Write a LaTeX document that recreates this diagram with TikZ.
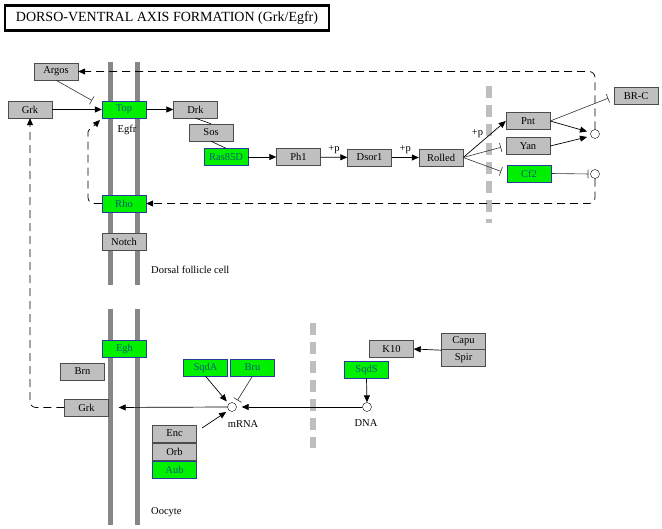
\documentclass[tikz,border=0pt]{standalone}
\usepackage{fontspec}
\setmainfont{Liberation Serif}
\usetikzlibrary{arrows.meta}
\definecolor{kgreen}{RGB}{0,240,0}
\definecolor{kblue}{RGB}{40,60,160}
\definecolor{ktext}{RGB}{0,90,120}
\definecolor{kgray}{RGB}{191,191,191}
\definecolor{memgray}{RGB}{135,135,135}
\definecolor{dashgray}{RGB}{190,190,190}

\begin{document}
\begin{tikzpicture}[x=1pt,y=-1pt,
  every node/.style={inner sep=0pt},
  gene/.style={draw=black!70,fill=kgray,minimum width=44pt,minimum height=17pt,font=\fontsize{10.5}{11}\selectfont},
  ggene/.style={gene,fill=kgreen,draw=kblue,text=ktext},
  spot/.style={circle,draw,fill=white,minimum size=9pt},
  lbl/.style={font=\fontsize{10.5}{11}\selectfont},
  act/.style={-{Triangle[length=7pt,width=6pt]},line width=0.7pt},
  inh/.style={-{Bar[width=9pt]},line width=0.6pt,black!80},
  loop/.style={act,dash pattern=on 8pt off 5pt,rounded corners=6pt},
  membrane/.style={memgray,line width=5pt},
  border/.style={dashgray,line width=6pt,dash pattern=on 12pt off 7pt}]
\useasboundingbox (0,0) rectangle (662,528);

\node[draw,line width=2.5pt,minimum width=324pt,minimum height=25pt,font=\fontsize{14}{15}\selectfont] (title) at (167,18) {DORSO-VENTRAL AXIS FORMATION (Grk/Egfr)};

% membranes and cell borders
\draw[membrane] (110,62) -- (110,285);
\draw[membrane] (137,62) -- (137,285);
\draw[membrane] (110,309) -- (110,525);
\draw[membrane] (137,309) -- (137,525);
\draw[border] (489,86) -- (489,223);
\draw[border] (313,323) -- (313,448);

% dorsal follicle cell
\node[gene] (argos) at (56,71.5) {Argos};
\node[gene] (grkA) at (30,109.5) {Grk};
\node[ggene] (top) at (124,109.5) {Top};
\node[gene] (drk) at (195.5,109.5) {Drk};
\node[gene] (sos) at (211,132.5) {Sos};
\node[ggene] (ras) at (226,157) {Ras85D};
\node[gene] (ph1) at (298.5,157) {Ph1};
\node[gene] (dsor) at (369.5,157.5) {Dsor1};
\node[gene] (rolled) at (441,157.5) {Rolled};
\node[gene] (pnt) at (528,121) {Pnt};
\node[gene] (yan) at (528,146) {Yan};
\node[ggene] (cf2) at (529,173.5) {Cf2};
\node[gene] (brc) at (636,96) {BR-C};
\node[spot] (c1) at (595,134) {};
\node[spot] (c2) at (595,174) {};
\node[ggene] (rho) at (124,203.5) {Rho};
\node[gene] (notch) at (124,241.5) {Notch};
\node[lbl] (egfr) at (127,130) {Egfr};
\node[lbl,anchor=west] (follicle) at (151,270) {Dorsal follicle cell};

% oocyte
\node[ggene] (egh) at (124.5,348.5) {Egh};
\node[gene] (brn) at (82.5,371.5) {Brn};
\node[ggene] (sqda) at (205.5,367.5) {SqdA};
\node[ggene] (bru) at (252.5,367.5) {Bru};
\node[gene] (grkB) at (86.5,407.5) {Grk};
\node[spot] (mrna) at (232,407) {};
\node[lbl] (mrnalbl) at (243,424) {mRNA};
\node[gene] (enc) at (174.5,433.5) {Enc};
\node[gene] (orb) at (174.5,451.5) {Orb};
\node[ggene] (aub) at (174.5,470) {Aub};
\node[gene] (k10) at (391.5,349) {K10};
\node[gene] (capu) at (463.5,341.5) {Capu};
\node[gene] (spir) at (463.5,358) {Spir};
\node[ggene] (sqds) at (366.5,369.5) {SqdS};
\node[spot] (dna) at (367,407) {};
\node[lbl] (dnalbl) at (366,423) {DNA};
\node[lbl,anchor=west] (oocyte) at (151,512) {Oocyte};

% signalling
\draw[act] (grkA) -- (top);
\draw[inh] (argos.south) -- (92,100.5);
\draw[act] (top) -- (drk);
\draw[line width=0.6pt] (drk.south) -- (sos.north);
\draw[line width=0.6pt] (sos.south) -- (ras.north);
\draw[act] (ras) -- (ph1);
\draw[act] (ph1) -- node[lbl,above=3pt] {+p} (dsor);
\draw[act] (dsor) -- node[lbl,above=3pt] {+p} (rolled);
\draw[act] (rolled.east) -- node[lbl,above left=1pt] {+p} (pnt.west);
\draw[inh,shorten >=5pt] (rolled.east) -- (yan.west);
\draw[inh,shorten >=6pt] (rolled.east) -- (cf2.west);
\coordinate (c1a) at (587,131.5);
\coordinate (c1b) at (587,137);
\draw[act] (pnt.east) -- (c1a);
\draw[act] (yan.east) -- (c1b);
\draw[inh,shorten >=6pt] (pnt.east) -- (brc.west);
\draw[inh,shorten >=2pt] (cf2.east) -- (c2.west);

% feedback
\draw[loop] (c1.north) |- (argos.east);
\draw[loop] (c2.south) |- (rho.east);
\coordinate (topin) at (100,120);
\draw[loop] (rho.west) -- (88,203.5) -- (88,138) to[out=90,in=225] (topin);
\draw[loop] (grkB.west) -| (grkA.south);

% oocyte links
\draw[act] (capu.south west) -- (k10.east);
\draw[act] (sqds.south) -- (dna.north);
\draw[act,shorten >=5pt] (dna.west) -- (mrna.east);
\draw[act,shorten >=10pt] (mrna.west) -- (grkB.east);
\draw[act,shorten >=3pt] (sqda.south) -- (mrna.north west);
\draw[inh,shorten >=4pt] (bru.south) -- (mrna.north east);
\coordinate (encout) at (202,428);
\draw[act,shorten >=3pt] (encout) -- (mrna.south west);
\end{tikzpicture}
\end{document}
